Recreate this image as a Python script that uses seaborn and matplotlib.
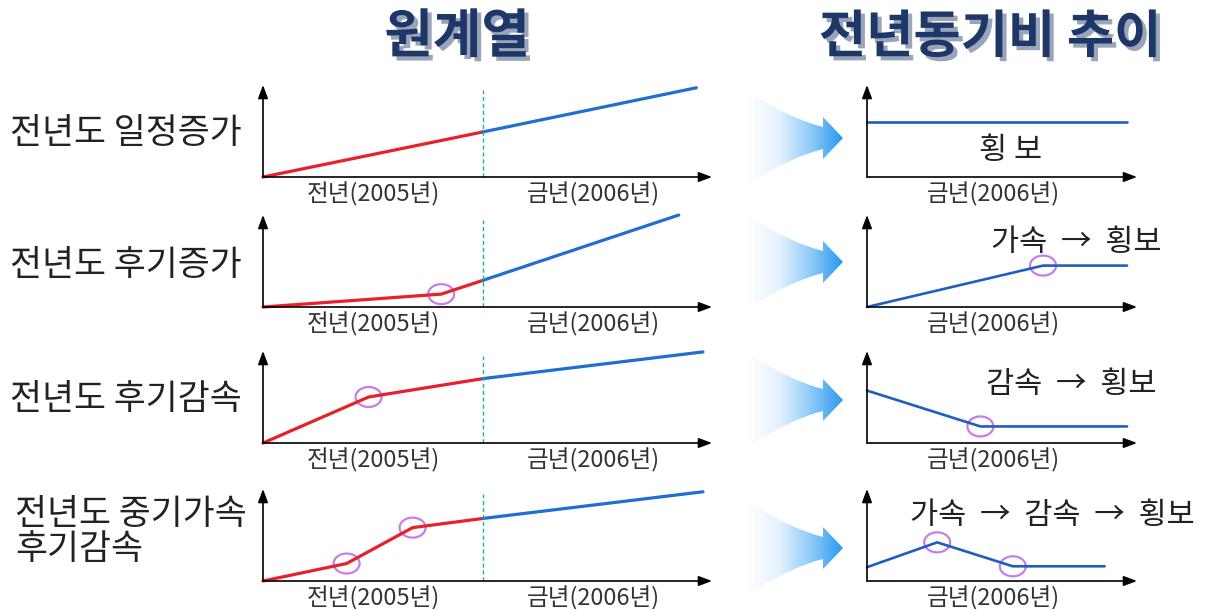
import numpy as np
import matplotlib.pyplot as plt
import seaborn as sns
import matplotlib.patheffects as pe
from matplotlib.patches import Ellipse, PathPatch
from matplotlib.path import Path
from matplotlib.colors import LinearSegmentedColormap

sns.set_style("white")
plt.rcParams['font.family'] = ['Noto Sans CJK KR', 'DejaVu Sans']

# Texts
titles = ["원계열", "전년동기비 추이"]
row_labels = ["전년도 일정증가", "전년도 후기증가", "전년도 후기감속", "전년도 중기가속\n후기감속"]
prev_label = "전년(2005년)"
cur_label = "금년(2006년)"
yoy_notes = ["횡 보", "가속  →  횡보", "감속  →  횡보", "가속  →  감속  →  횡보"]

# Original series (x: 0-1 = 2005, 1-2 = 2006; y: relative level)
prev_x = [[0, 1], [0, 0.81, 1], [0, 0.48, 1], [0, 0.38, 0.68, 1]]
prev_y = [[0, 0.49], [0, 0.14, 0.29], [0, 0.50, 0.70], [0, 0.19, 0.58, 0.68]]
cur_x = [[1, 1.97], [1, 1.89], [1, 2.0], [1, 2.0]]
cur_y = [[0.49, 0.97], [0.29, 1.0], [0.70, 0.99], [0.68, 0.97]]
prev_marks = [[], [1], [1], [1, 2]]

# Year-on-year trend (x: fraction of 2006)
yoy_x = [[0, 0.963], [0, 0.652, 0.963], [0, 0.42, 0.963], [0, 0.26, 0.54, 0.88]]
yoy_y = [[0.60, 0.60], [0, 0.45, 0.45], [0.57, 0.18, 0.18], [0.15, 0.42, 0.16, 0.16]]
yoy_marks = [[], [1], [1], [1, 2]]

# Layout (pixels)
W, H = 1215, 609
origins = [177, 307, 443, 581]
PH = 92
note_pos = [(0.53, 0.29), (0.774, 0.70), (0.757, 0.64), (0.687, 0.71)]
label_y = [133, 265, 400, 532]
fan_tips = [(843, 138), (843, 262), (843, 400), (843, 548)]

RED = '#E8202A'
BLUE = '#1F6FD1'
BLUE2 = '#1F5EC0'
PURPLE = '#C77DEB'

fig = plt.figure(figsize=(W / 100, H / 100), dpi=100)
bg = fig.add_axes([0, 0, 1, 1])
bg.set_axis_off()

fan_cmap = LinearSegmentedColormap.from_list("fan", ["#ffffff", "#e4f1fd", "#8ccaf8", "#2a98ef"])


def fan_arrow(tx, ty):
    verts = [(-95, -46), (-50, -18), (-20, -11), (-20, -21), (0, 0), (-20, 21),
             (-20, 11), (-50, 18), (-95, 46), (-95, -46)]
    codes = [Path.MOVETO, Path.CURVE3, Path.CURVE3, Path.LINETO, Path.LINETO, Path.LINETO,
             Path.LINETO, Path.CURVE3, Path.CURVE3, Path.CLOSEPOLY]
    path = Path([(tx + dx, ty + dy) for dx, dy in verts], codes)
    patch = PathPatch(path, facecolor='none', edgecolor='none')
    bg.add_patch(patch)
    img = bg.imshow(np.linspace(0, 1, 200)[None, :], cmap=fan_cmap, aspect='auto',
                    extent=(tx - 95, tx, ty + 46, ty - 46), interpolation='bilinear')
    img.set_clip_path(patch)


for tx, ty in fan_tips:
    fan_arrow(tx, ty)

shadow = [pe.withSimplePatchShadow(offset=(3, -3), shadow_rgbFace='#8f9bb3', alpha=0.9)]
bg.text(457, 37, titles[0], fontsize=38, fontweight='bold', color='#1c3768',
        ha='center', va='center', path_effects=shadow)
bg.text(990, 37, titles[1], fontsize=37, fontweight='bold', color='#1c3768',
        ha='center', va='center', path_effects=shadow)

for i, lab in enumerate(row_labels):
    bg.text(10 if i < 3 else 15, label_y[i], lab, fontsize=25, color='#222222',
            ha='left', va='center', linespacing=1.0)

bg.set_xlim(0, W)
bg.set_ylim(H, 0)


def axis_arrows(ax):
    style = dict(arrowstyle='-|>,head_length=0.8,head_width=0.3', lw=1.2, color='black',
                 shrinkA=0, shrinkB=0)
    ax.annotate('', xy=(1, 0), xytext=(0, 0), xycoords='axes fraction', arrowprops=style,
                annotation_clip=False)
    ax.annotate('', xy=(0, 1), xytext=(0, 0), xycoords='axes fraction', arrowprops=style,
                annotation_clip=False)


def under_label(ax, x, text):
    ax.annotate(text, xy=(x, 0), xycoords=('data', 'axes fraction'), xytext=(0, -17),
                textcoords='offset pixels', ha='center', va='center', fontsize=17,
                color='#333333', annotation_clip=False)


for i in range(4):
    o = origins[i]
    # original series panel
    ax = fig.add_axes([263 / W, 1 - o / H, 449 / W, PH / H])
    ax.patch.set_alpha(0)
    sns.lineplot(x=prev_x[i], y=prev_y[i], ax=ax, color=RED, lw=2.3, sort=False)
    sns.lineplot(x=cur_x[i], y=cur_y[i], ax=ax, color=BLUE, lw=2.3, sort=False)
    for ln in ax.lines:
        ln.set_clip_on(False)
        ln.set_solid_capstyle('round')
    for k in prev_marks[i]:
        ax.add_patch(Ellipse((prev_x[i][k], prev_y[i][k]), 26 / 220, 20 / PH, fill=False,
                             ec=PURPLE, lw=1.6, clip_on=False))
    ax.axvline(1, 0, 0.95, ls=(0, (3, 2)), color='#22aeb0', lw=1)
    ax.set_xlim(0, 449 / 220)
    ax.set_ylim(0, 1)
    ax.set_axis_off()
    axis_arrows(ax)
    under_label(ax, 0.5, prev_label)
    under_label(ax, 1.5, cur_label)

    # year-on-year panel
    ax2 = fig.add_axes([867 / W, 1 - o / H, 270 / W, PH / H])
    ax2.patch.set_alpha(0)
    sns.lineplot(x=yoy_x[i], y=yoy_y[i], ax=ax2, color=BLUE2, lw=1.9, sort=False)
    for ln in ax2.lines:
        ln.set_clip_on(False)
    for k in yoy_marks[i]:
        ax2.add_patch(Ellipse((yoy_x[i][k], yoy_y[i][k]), 26 / 270, 20 / PH, fill=False,
                              ec=PURPLE, lw=1.6, clip_on=False))
    ax2.set_xlim(0, 1)
    ax2.set_ylim(0, 1)
    ax2.set_axis_off()
    axis_arrows(ax2)
    under_label(ax2, 0.47, cur_label)
    ax2.text(note_pos[i][0], note_pos[i][1], yoy_notes[i], fontsize=22, color='#222222',
             ha='center', va='center')

fig.savefig("out.png", dpi=100)
